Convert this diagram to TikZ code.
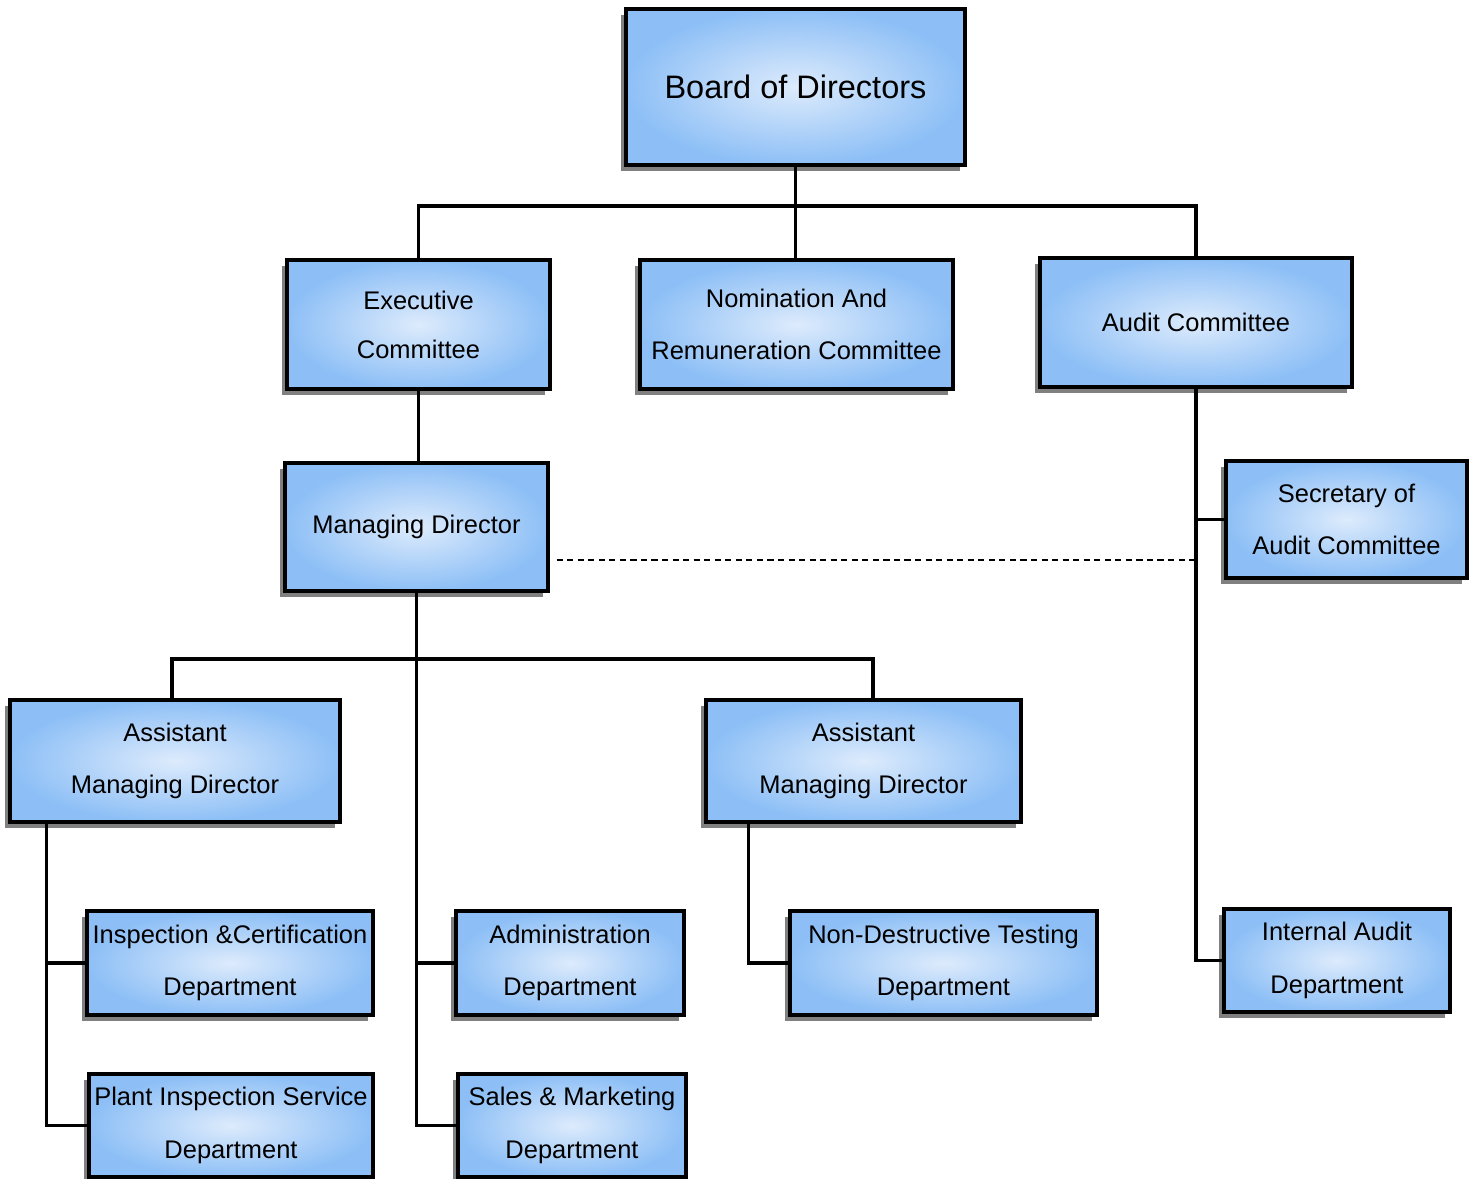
\documentclass[tikz,border=0pt]{standalone}
\usepackage{fontspec}
\setmainfont{Liberation Sans}
\usetikzlibrary{shadows}
\definecolor{boxout}{HTML}{8DBFF6}
\definecolor{boxin}{HTML}{DDEBFC}
\definecolor{boxshade}{HTML}{808080}

\begin{document}
\begin{tikzpicture}[x=0.02cm, y=-0.02cm,
    unit/.style 2 args={draw=black, line width=1.8pt, inner sep=1pt,
        inner color=boxin, outer color=boxout,
        general shadow={fill=boxshade, shadow xshift=-0.1cm, shadow yshift=-0.11cm},
        minimum width=#1*0.02cm, minimum height=#2*0.02cm,
        align=center, font=\fontsize{14.5}{30}\selectfont},
    link/.style={line width=2pt},
    dotlink/.style={line width=1.2pt, dash pattern=on 3.5pt off 2.5pt}
]
\useasboundingbox (0,0) rectangle (1479,1178);

\node[unit={339}{156}, font=\fontsize{18.5}{22}\selectfont] (board) at (795.5,87) {Board of Directors};

\node[unit={263}{129}, font=\fontsize{14.5}{28}\selectfont] (exec) at (418.5,324.5) {Executive\\Committee};
\node[unit={313}{129}] (nom) at (796.5,324.5) {Nomination And\\Remuneration Committee};
\node[unit={312}{129}] (audit) at (1196,322.5) {Audit Committee};

\node[unit={263}{128}] (md) at (416.5,527) {Managing Director};
\node[unit={241}{117}] (sec) at (1346.5,519.5) {Secretary of\\Audit Committee};

\node[unit={330}{122}] (amdl) at (175,761) {Assistant\\Managing Director};
\node[unit={315}{122}] (amdr) at (863.5,761) {Assistant\\Managing Director};

\node[unit={286}{104}] (insp) at (230,963) {Inspection \&Certification\\Department};
\node[unit={228}{104}] (admin) at (570,963) {Administration\\Department};
\node[unit={307}{104}] (ndt) at (943.5,963) {Non-Destructive Testing\\Department};
\node[unit={226}{103}] (iad) at (1337,960.5) {Internal Audit\\Department};
\node[unit={284}{103}] (plant) at (231,1125.5) {Plant Inspection Service\\Department};
\node[unit={228}{103}] (sales) at (572,1125.5) {Sales \& Marketing\\Department};

% board and committees
\coordinate (bus1) at (796,206);
\draw[link] (board.south) -- (board.south |- nom.north);
\draw[link] (exec.north) |- (audit.north |- bus1) -- (audit.north);
\draw[link] (exec.south) -- (exec.south |- md.north);

% managing director
\coordinate (bus2) at (417,659);
\draw[link] (md.south) -- (md.south |- sales.west) -- (sales.west);
\draw[link] (md.south |- admin.west) -- (admin.west);
\draw[link] ([xshift=-0.06cm]amdl.north) |- ([xshift=0.19cm]amdr.north |- bus2) -- ([xshift=0.19cm]amdr.north);

% assistant managing directors
\draw[link] ([xshift=0.76cm]amdl.south west) |- (plant.west);
\draw[link] ([xshift=0.76cm]amdl.south west |- insp.west) -- (insp.west);
\draw[link] ([xshift=0.88cm]amdr.south west) |- (ndt.west);

% audit committee
\draw[link] (audit.south) |- (iad.west);
\draw[link] (audit.south |- sec.west) -- (sec.west);
\coordinate (dsh) at ([xshift=0.14cm, yshift=-0.66cm]md.east);
\draw[dotlink] (dsh) -- (dsh -| audit.south);
\end{tikzpicture}
\end{document}
